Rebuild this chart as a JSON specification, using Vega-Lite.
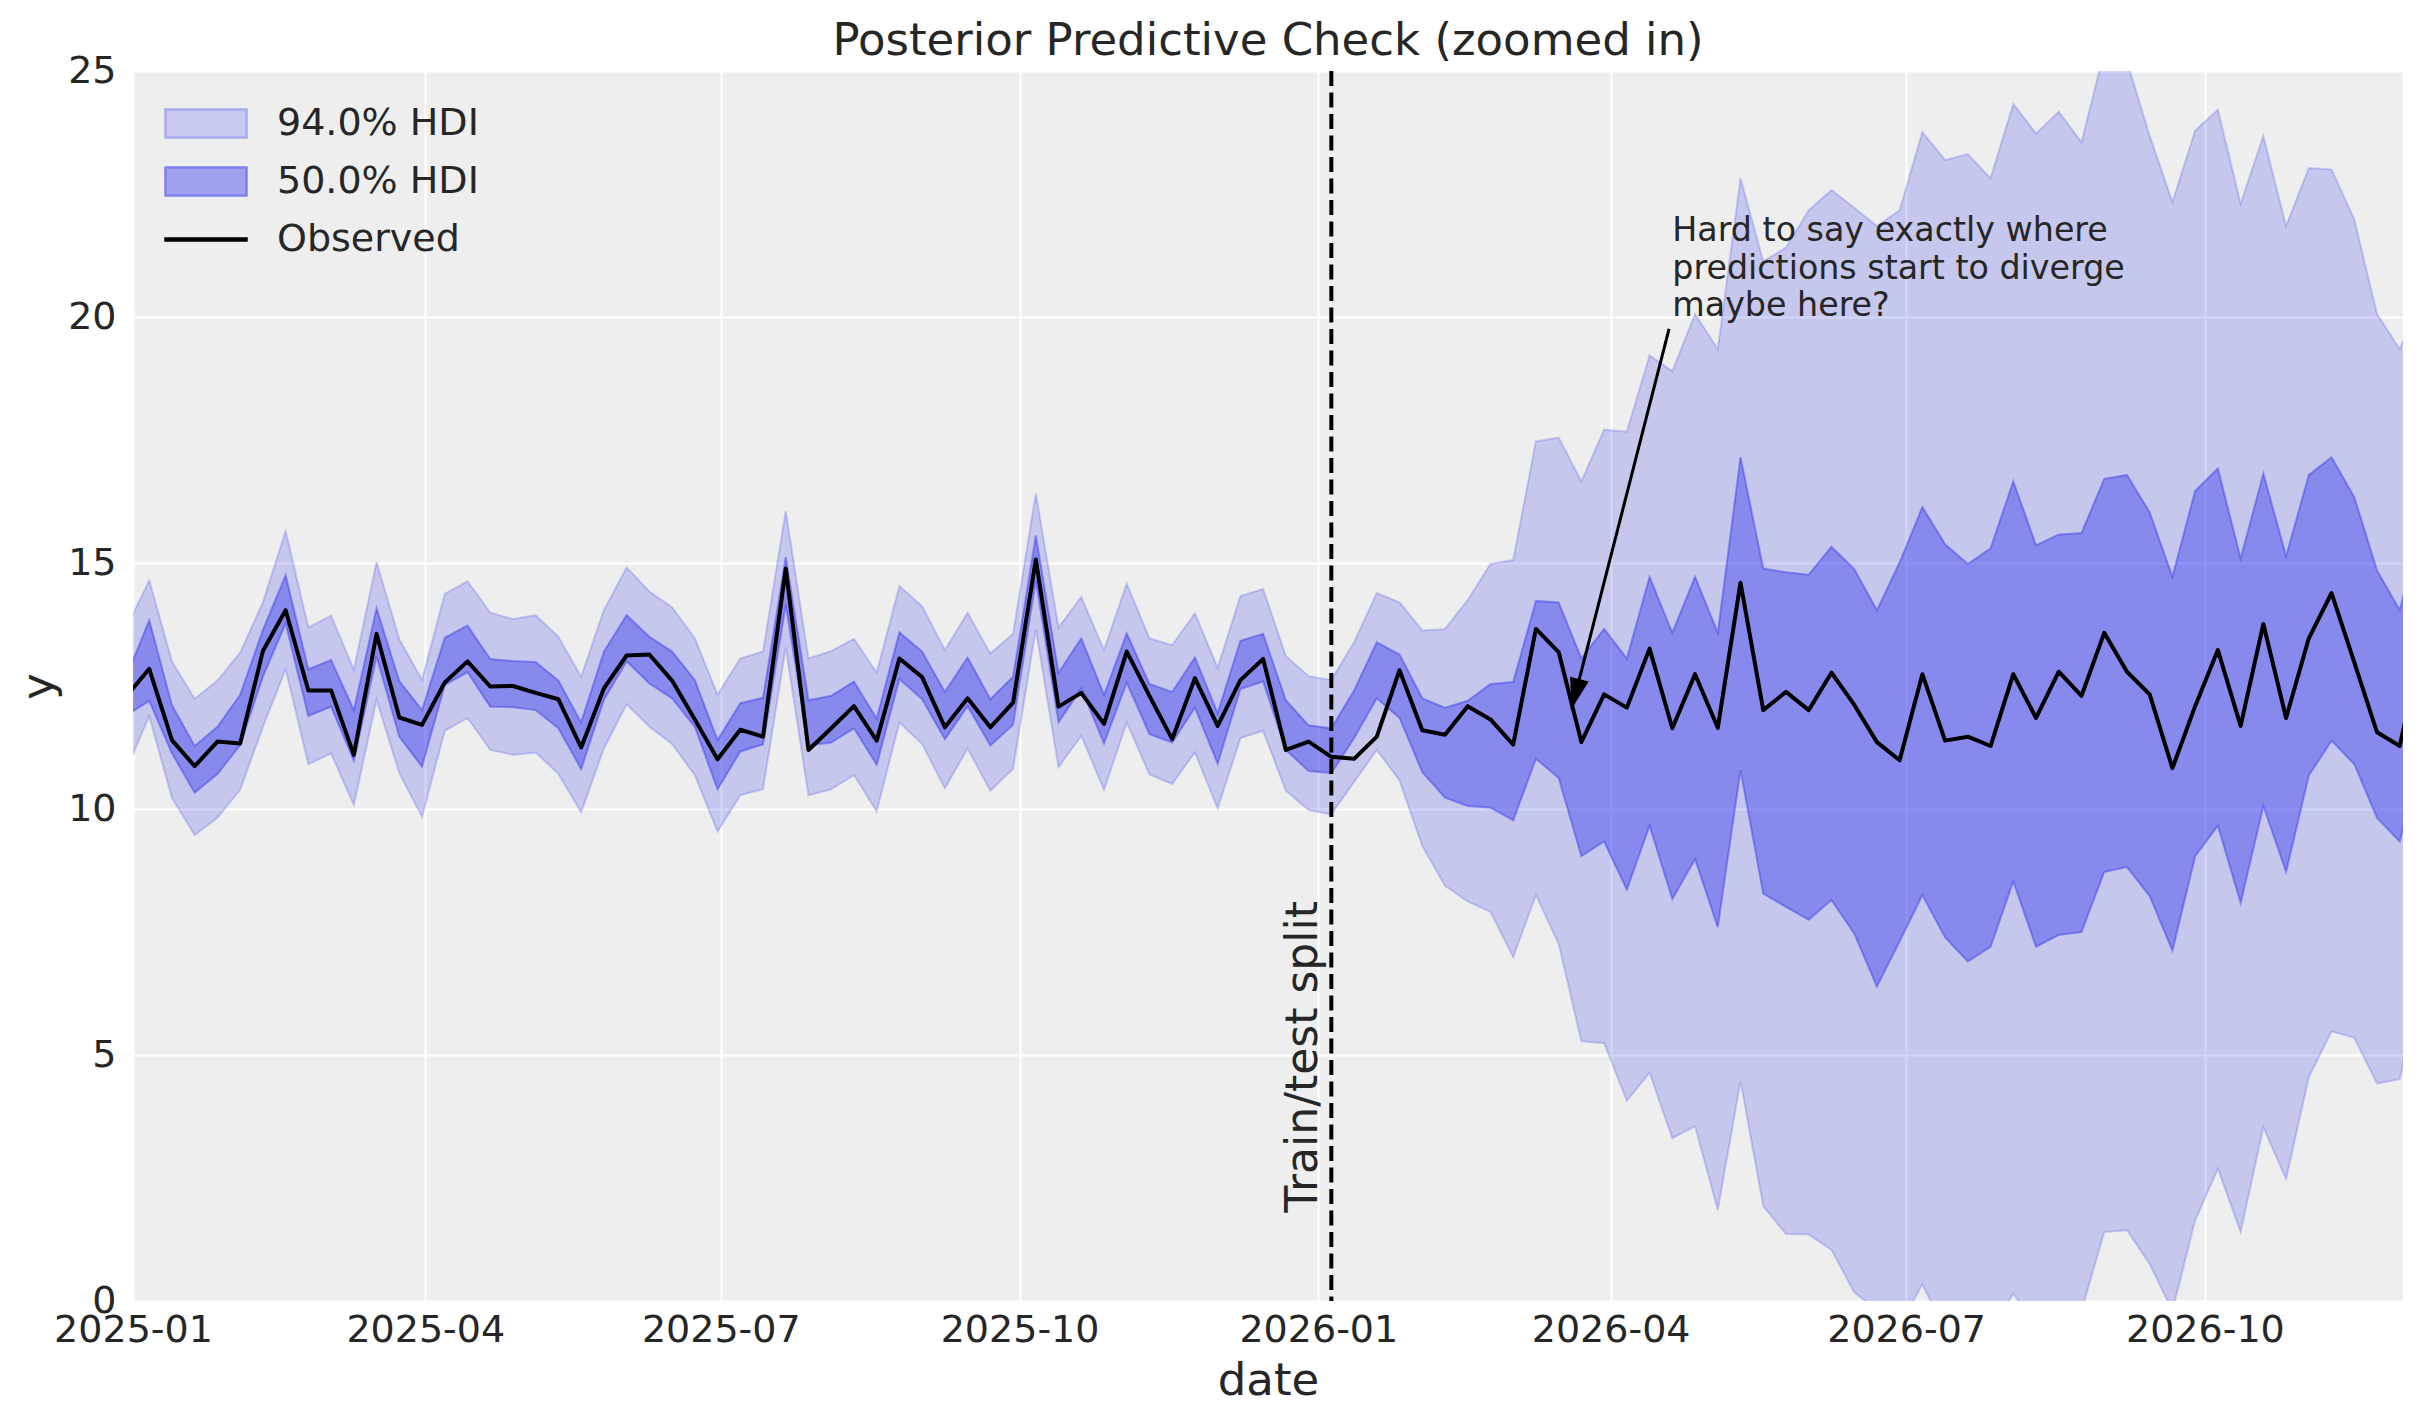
{
  "$schema": "https://vega.github.io/schema/vega-lite/v6.json",
  "width": 2270,
  "height": 1230,
  "autosize": {"type": "none"},
  "padding": {"left": 133, "top": 71, "right": 20, "bottom": 122},
  "background": "white",
  "config": {
    "view": {"fill": "#eeeeee", "stroke": null},
    "font": "DejaVu Sans",
    "legend": {
      "orient": "top-left",
      "offset": 31,
      "padding": 0,
      "labelFont": "DejaVu Sans",
      "labelFontSize": 38,
      "labelColor": "#262626",
      "labelLimit": 0,
      "labelOffset": 70,
      "symbolSize": 1600,
      "symbolStrokeWidth": 2.5,
      "symbolOpacity": 1,
      "rowPadding": 17
    }
  },
  "title": {
    "text": "Posterior Predictive Check (zoomed in)",
    "font": "DejaVu Sans",
    "fontSize": 45,
    "fontWeight": "normal",
    "color": "#262626",
    "anchor": "middle",
    "frame": "group",
    "baseline": "alphabetic",
    "offset": -48
  },
  "datasets": {
    "weekly": [
      {"date": "2024-12-30", "obs": 12.29, "lo94": 10.81, "hi94": 13.69, "lo50": 11.9, "hi50": 12.69},
      {"date": "2025-01-06", "obs": 12.85, "lo94": 11.89, "hi94": 14.65, "lo50": 12.2, "hi50": 13.84},
      {"date": "2025-01-13", "obs": 11.4, "lo94": 10.22, "hi94": 13.0, "lo50": 11.13, "hi50": 12.11},
      {"date": "2025-01-20", "obs": 10.87, "lo94": 9.47, "hi94": 12.24, "lo50": 10.33, "hi50": 11.28},
      {"date": "2025-01-27", "obs": 11.37, "lo94": 9.82, "hi94": 12.61, "lo50": 10.71, "hi50": 11.67},
      {"date": "2025-02-03", "obs": 11.33, "lo94": 10.39, "hi94": 13.18, "lo50": 11.3, "hi50": 12.32},
      {"date": "2025-02-10", "obs": 13.21, "lo94": 11.67, "hi94": 14.2, "lo50": 12.69, "hi50": 13.64},
      {"date": "2025-02-17", "obs": 14.04, "lo94": 12.84, "hi94": 15.65, "lo50": 13.77, "hi50": 14.75},
      {"date": "2025-02-24", "obs": 12.41, "lo94": 10.91, "hi94": 13.69, "lo50": 11.89, "hi50": 12.84},
      {"date": "2025-03-03", "obs": 12.41, "lo94": 11.13, "hi94": 13.93, "lo50": 12.08, "hi50": 13.03},
      {"date": "2025-03-10", "obs": 11.1, "lo94": 10.08, "hi94": 12.83, "lo50": 10.98, "hi50": 12.01},
      {"date": "2025-03-17", "obs": 13.56, "lo94": 12.22, "hi94": 15.02, "lo50": 13.1, "hi50": 14.08},
      {"date": "2025-03-24", "obs": 11.86, "lo94": 10.73, "hi94": 13.45, "lo50": 11.47, "hi50": 12.6},
      {"date": "2025-03-31", "obs": 11.71, "lo94": 9.84, "hi94": 12.62, "lo50": 10.86, "hi50": 12.01},
      {"date": "2025-04-07", "obs": 12.57, "lo94": 11.59, "hi94": 14.37, "lo50": 12.52, "hi50": 13.48},
      {"date": "2025-04-14", "obs": 13.0, "lo94": 11.85, "hi94": 14.63, "lo50": 12.78, "hi50": 13.73},
      {"date": "2025-04-21", "obs": 12.49, "lo94": 11.2, "hi94": 13.99, "lo50": 12.08, "hi50": 13.05},
      {"date": "2025-04-28", "obs": 12.5, "lo94": 11.1, "hi94": 13.86, "lo50": 12.07, "hi50": 13.01},
      {"date": "2025-05-05", "obs": 12.36, "lo94": 11.15, "hi94": 13.94, "lo50": 12.01, "hi50": 12.99},
      {"date": "2025-05-12", "obs": 12.23, "lo94": 10.71, "hi94": 13.5, "lo50": 11.64, "hi50": 12.61},
      {"date": "2025-05-19", "obs": 11.25, "lo94": 9.93, "hi94": 12.69, "lo50": 10.81, "hi50": 11.76},
      {"date": "2025-05-26", "obs": 12.45, "lo94": 11.23, "hi94": 14.04, "lo50": 12.22, "hi50": 13.2},
      {"date": "2025-06-02", "obs": 13.12, "lo94": 12.13, "hi94": 14.91, "lo50": 13.0, "hi50": 13.94},
      {"date": "2025-06-09", "obs": 13.14, "lo94": 11.67, "hi94": 14.42, "lo50": 12.55, "hi50": 13.5},
      {"date": "2025-06-16", "obs": 12.61, "lo94": 11.32, "hi94": 14.1, "lo50": 12.25, "hi50": 13.2},
      {"date": "2025-06-23", "obs": 11.82, "lo94": 10.69, "hi94": 13.47, "lo50": 11.67, "hi50": 12.62},
      {"date": "2025-06-30", "obs": 11.01, "lo94": 9.54, "hi94": 12.32, "lo50": 10.4, "hi50": 11.4},
      {"date": "2025-07-07", "obs": 11.61, "lo94": 10.28, "hi94": 13.06, "lo50": 11.17, "hi50": 12.15},
      {"date": "2025-07-14", "obs": 11.47, "lo94": 10.4, "hi94": 13.2, "lo50": 11.31, "hi50": 12.26},
      {"date": "2025-07-21", "obs": 14.89, "lo94": 13.28, "hi94": 16.06, "lo50": 14.15, "hi50": 15.12},
      {"date": "2025-07-28", "obs": 11.2, "lo94": 10.28, "hi94": 13.06, "lo50": 11.29, "hi50": 12.21},
      {"date": "2025-08-04", "obs": 11.64, "lo94": 10.4, "hi94": 13.21, "lo50": 11.35, "hi50": 12.3},
      {"date": "2025-08-11", "obs": 12.09, "lo94": 10.69, "hi94": 13.46, "lo50": 11.64, "hi50": 12.59},
      {"date": "2025-08-18", "obs": 11.39, "lo94": 9.95, "hi94": 12.77, "lo50": 10.9, "hi50": 11.84},
      {"date": "2025-08-25", "obs": 13.06, "lo94": 11.76, "hi94": 14.53, "lo50": 12.64, "hi50": 13.59},
      {"date": "2025-09-01", "obs": 12.68, "lo94": 11.32, "hi94": 14.12, "lo50": 12.23, "hi50": 13.2},
      {"date": "2025-09-08", "obs": 11.66, "lo94": 10.42, "hi94": 13.23, "lo50": 11.42, "hi50": 12.38},
      {"date": "2025-09-15", "obs": 12.25, "lo94": 11.23, "hi94": 13.99, "lo50": 12.09, "hi50": 13.08},
      {"date": "2025-09-22", "obs": 11.66, "lo94": 10.37, "hi94": 13.16, "lo50": 11.29, "hi50": 12.23},
      {"date": "2025-09-29", "obs": 12.16, "lo94": 10.82, "hi94": 13.56, "lo50": 11.71, "hi50": 12.69},
      {"date": "2025-10-06", "obs": 15.07, "lo94": 13.65, "hi94": 16.41, "lo50": 14.64, "hi50": 15.56},
      {"date": "2025-10-13", "obs": 12.08, "lo94": 10.85, "hi94": 13.69, "lo50": 11.76, "hi50": 12.77},
      {"date": "2025-10-20", "obs": 12.36, "lo94": 11.49, "hi94": 14.31, "lo50": 12.45, "hi50": 13.47},
      {"date": "2025-10-27", "obs": 11.73, "lo94": 10.39, "hi94": 13.23, "lo50": 11.33, "hi50": 12.32},
      {"date": "2025-11-03", "obs": 13.2, "lo94": 11.76, "hi94": 14.58, "lo50": 12.57, "hi50": 13.57},
      {"date": "2025-11-10", "obs": 12.3, "lo94": 10.7, "hi94": 13.47, "lo50": 11.52, "hi50": 12.54},
      {"date": "2025-11-17", "obs": 11.42, "lo94": 10.51, "hi94": 13.33, "lo50": 11.35, "hi50": 12.38},
      {"date": "2025-11-24", "obs": 12.66, "lo94": 11.15, "hi94": 13.98, "lo50": 12.06, "hi50": 13.08},
      {"date": "2025-12-01", "obs": 11.69, "lo94": 10.01, "hi94": 12.87, "lo50": 10.92, "hi50": 11.95},
      {"date": "2025-12-08", "obs": 12.62, "lo94": 11.44, "hi94": 14.33, "lo50": 12.44, "hi50": 13.42},
      {"date": "2025-12-15", "obs": 13.05, "lo94": 11.59, "hi94": 14.47, "lo50": 12.59, "hi50": 13.56},
      {"date": "2025-12-22", "obs": 11.2, "lo94": 10.37, "hi94": 13.11, "lo50": 11.2, "hi50": 12.21},
      {"date": "2025-12-29", "obs": 11.37, "lo94": 9.98, "hi94": 12.7, "lo50": 10.77, "hi50": 11.7},
      {"date": "2026-01-05", "obs": 11.06, "lo94": 9.89, "hi94": 12.62, "lo50": 10.73, "hi50": 11.64},
      {"date": "2026-01-12", "obs": 11.02, "lo94": 10.55, "hi94": 13.39, "lo50": 11.44, "hi50": 12.41},
      {"date": "2026-01-19", "obs": 11.47, "lo94": 11.2, "hi94": 14.39, "lo50": 12.25, "hi50": 13.39},
      {"date": "2026-01-26", "obs": 12.82, "lo94": 10.58, "hi94": 14.2, "lo50": 11.85, "hi50": 13.14},
      {"date": "2026-02-02", "obs": 11.6, "lo94": 9.25, "hi94": 13.63, "lo50": 10.75, "hi50": 12.25},
      {"date": "2026-02-09", "obs": 11.51, "lo94": 8.44, "hi94": 13.66, "lo50": 10.23, "hi50": 12.06},
      {"date": "2026-02-16", "obs": 12.09, "lo94": 8.12, "hi94": 14.25, "lo50": 10.06, "hi50": 12.2},
      {"date": "2026-02-23", "obs": 11.82, "lo94": 7.91, "hi94": 14.98, "lo50": 10.03, "hi50": 12.54},
      {"date": "2026-03-02", "obs": 11.31, "lo94": 6.99, "hi94": 15.06, "lo50": 9.77, "hi50": 12.58},
      {"date": "2026-03-09", "obs": 13.66, "lo94": 8.25, "hi94": 17.47, "lo50": 11.02, "hi50": 14.23},
      {"date": "2026-03-16", "obs": 13.19, "lo94": 7.26, "hi94": 17.55, "lo50": 10.63, "hi50": 14.2},
      {"date": "2026-03-23", "obs": 11.36, "lo94": 5.28, "hi94": 16.66, "lo50": 9.04, "hi50": 13.06},
      {"date": "2026-03-30", "obs": 12.33, "lo94": 5.24, "hi94": 17.71, "lo50": 9.34, "hi50": 13.66},
      {"date": "2026-04-06", "obs": 12.06, "lo94": 4.07, "hi94": 17.67, "lo50": 8.36, "hi50": 13.06},
      {"date": "2026-04-13", "obs": 13.26, "lo94": 4.64, "hi94": 19.22, "lo50": 9.66, "hi50": 14.72},
      {"date": "2026-04-20", "obs": 11.64, "lo94": 3.31, "hi94": 18.9, "lo50": 8.17, "hi50": 13.58},
      {"date": "2026-04-27", "obs": 12.74, "lo94": 3.55, "hi94": 20.06, "lo50": 8.98, "hi50": 14.72},
      {"date": "2026-05-04", "obs": 11.65, "lo94": 1.85, "hi94": 19.35, "lo50": 7.6, "hi50": 13.58},
      {"date": "2026-05-11", "obs": 14.6, "lo94": 4.47, "hi94": 22.82, "lo50": 10.79, "hi50": 17.15},
      {"date": "2026-05-18", "obs": 12.01, "lo94": 1.93, "hi94": 21.13, "lo50": 8.28, "hi50": 14.89},
      {"date": "2026-05-25", "obs": 12.38, "lo94": 1.36, "hi94": 21.41, "lo50": 8.01, "hi50": 14.81},
      {"date": "2026-06-01", "obs": 12.01, "lo94": 1.35, "hi94": 22.17, "lo50": 7.75, "hi50": 14.76},
      {"date": "2026-06-08", "obs": 12.77, "lo94": 1.04, "hi94": 22.58, "lo50": 8.15, "hi50": 15.33},
      {"date": "2026-06-15", "obs": 12.12, "lo94": 0.18, "hi94": 22.22, "lo50": 7.47, "hi50": 14.88},
      {"date": "2026-06-22", "obs": 11.36, "lo94": -0.2, "hi94": 21.85, "lo50": 6.39, "hi50": 14.04},
      {"date": "2026-06-29", "obs": 10.99, "lo94": -0.5, "hi94": 22.17, "lo50": 7.31, "hi50": 15.01},
      {"date": "2026-07-06", "obs": 12.74, "lo94": 0.34, "hi94": 23.76, "lo50": 8.25, "hi50": 16.14},
      {"date": "2026-07-13", "obs": 11.39, "lo94": -0.6, "hi94": 23.19, "lo50": 7.39, "hi50": 15.38},
      {"date": "2026-07-20", "obs": 11.47, "lo94": -0.4, "hi94": 23.31, "lo50": 6.9, "hi50": 14.98},
      {"date": "2026-07-27", "obs": 11.28, "lo94": -0.6, "hi94": 22.82, "lo50": 7.2, "hi50": 15.3},
      {"date": "2026-08-03", "obs": 12.74, "lo94": 0.15, "hi94": 24.33, "lo50": 8.53, "hi50": 16.66},
      {"date": "2026-08-10", "obs": 11.85, "lo94": -0.5, "hi94": 23.73, "lo50": 7.2, "hi50": 15.36},
      {"date": "2026-08-17", "obs": 12.79, "lo94": -0.6, "hi94": 24.17, "lo50": 7.44, "hi50": 15.58},
      {"date": "2026-08-24", "obs": 12.3, "lo94": -0.2, "hi94": 23.55, "lo50": 7.5, "hi50": 15.61},
      {"date": "2026-08-31", "obs": 13.58, "lo94": 1.4, "hi94": 25.4, "lo50": 8.72, "hi50": 16.71},
      {"date": "2026-09-07", "obs": 12.79, "lo94": 1.44, "hi94": 25.2, "lo50": 8.82, "hi50": 16.79},
      {"date": "2026-09-14", "obs": 12.33, "lo94": 0.75, "hi94": 23.68, "lo50": 8.23, "hi50": 16.03},
      {"date": "2026-09-21", "obs": 10.83, "lo94": -0.2, "hi94": 22.33, "lo50": 7.12, "hi50": 14.72},
      {"date": "2026-09-28", "obs": 12.09, "lo94": 1.64, "hi94": 23.79, "lo50": 9.04, "hi50": 16.47},
      {"date": "2026-10-05", "obs": 13.23, "lo94": 2.69, "hi94": 24.21, "lo50": 9.66, "hi50": 16.92},
      {"date": "2026-10-12", "obs": 11.69, "lo94": 1.4, "hi94": 22.3, "lo50": 8.09, "hi50": 15.09},
      {"date": "2026-10-19", "obs": 13.76, "lo94": 3.53, "hi94": 23.68, "lo50": 10.06, "hi50": 16.82},
      {"date": "2026-10-26", "obs": 11.85, "lo94": 2.48, "hi94": 21.85, "lo50": 8.72, "hi50": 15.14},
      {"date": "2026-11-02", "obs": 13.47, "lo94": 4.55, "hi94": 23.03, "lo50": 10.68, "hi50": 16.79},
      {"date": "2026-11-09", "obs": 14.39, "lo94": 5.48, "hi94": 23.0, "lo50": 11.39, "hi50": 17.15},
      {"date": "2026-11-16", "obs": 12.98, "lo94": 5.35, "hi94": 21.98, "lo50": 10.91, "hi50": 16.34},
      {"date": "2026-11-23", "obs": 11.56, "lo94": 4.42, "hi94": 20.06, "lo50": 9.82, "hi50": 14.85},
      {"date": "2026-11-30", "obs": 11.28, "lo94": 4.51, "hi94": 19.35, "lo50": 9.34, "hi50": 14.04},
      {"date": "2026-12-07", "obs": 13.4, "lo94": 6.5, "hi94": 20.4, "lo50": 11.2, "hi50": 15.9}
    ]
  },
  "layer": [
    {
      "data": {"name": "weekly"},
      "mark": {"type": "area", "clip": true, "fill": "#2a2eec", "fillOpacity": 0.2, "stroke": "#2a2eec", "strokeOpacity": 0.2, "strokeWidth": 2},
      "encoding": {
        "x": {
          "field": "date",
          "type": "temporal",
          "scale": {"type": "utc", "domain": [{"year": 2025, "month": 1, "date": 1, "utc": true}, {"year": 2026, "month": 12, "date": 1, "utc": true}]},
          "axis": {
            "title": "date",
            "format": "%Y-%m",
            "values": [
              {"year": 2025, "month": 1, "date": 1, "utc": true},
              {"year": 2025, "month": 4, "date": 1, "utc": true},
              {"year": 2025, "month": 7, "date": 1, "utc": true},
              {"year": 2025, "month": 10, "date": 1, "utc": true},
              {"year": 2026, "month": 1, "date": 1, "utc": true},
              {"year": 2026, "month": 4, "date": 1, "utc": true},
              {"year": 2026, "month": 7, "date": 1, "utc": true},
              {"year": 2026, "month": 10, "date": 1, "utc": true}
            ],
            "labelFont": "DejaVu Sans",
            "labelFontSize": 38,
            "labelColor": "#262626",
            "labelPadding": 10,
            "labelFlush": false,
            "labelOverlap": false,
            "ticks": false,
            "tickSize": 0,
            "domain": false,
            "grid": true,
            "gridColor": "#ffffff",
            "gridWidth": 2,
            "titleFont": "DejaVu Sans",
            "titleFontSize": 45,
            "titleFontWeight": "normal",
            "titleColor": "#262626",
            "titlePadding": 9
          }
        },
        "y": {
          "field": "lo94",
          "type": "quantitative",
          "scale": {"domain": [0, 25], "nice": false, "zero": false},
          "axis": {
            "title": "y",
            "values": [0, 5, 10, 15, 20, 25],
            "labelFont": "DejaVu Sans",
            "labelFontSize": 38,
            "labelColor": "#262626",
            "labelPadding": 17,
            "ticks": false,
            "tickSize": 0,
            "domain": false,
            "grid": true,
            "gridColor": "#ffffff",
            "gridWidth": 2,
            "titleFont": "DejaVu Sans",
            "titleFontSize": 45,
            "titleFontWeight": "normal",
            "titleColor": "#262626",
            "titlePadding": 6
          }
        },
        "y2": {"field": "hi94"}
      }
    },
    {
      "data": {"name": "weekly"},
      "mark": {"type": "area", "clip": true, "fill": "#2a2eec", "fillOpacity": 0.4, "stroke": "#2a2eec", "strokeOpacity": 0.4, "strokeWidth": 2},
      "encoding": {
        "x": {"field": "date", "type": "temporal"},
        "y": {"field": "lo50", "type": "quantitative"},
        "y2": {"field": "hi50"}
      }
    },
    {
      "data": {"name": "weekly"},
      "mark": {"type": "line", "clip": true, "color": "#000000", "strokeWidth": 4, "strokeJoin": "round"},
      "encoding": {
        "x": {"field": "date", "type": "temporal"},
        "y": {"field": "obs", "type": "quantitative"}
      }
    },
    {
      "data": {"values": [{"series": "94.0% HDI"}, {"series": "50.0% HDI"}, {"series": "Observed"}]},
      "mark": {"type": "point", "filled": true, "opacity": 0},
      "encoding": {
        "x": {"datum": {"year": 2025, "month": 6, "date": 1, "utc": true}, "type": "temporal"},
        "y": {"datum": 5, "type": "quantitative"},
        "fill": {
          "field": "series",
          "type": "nominal",
          "scale": {"domain": ["94.0% HDI", "50.0% HDI", "Observed"], "range": ["#c7c8ee", "#a0a1ed", "#000000"]},
          "legend": {"title": null}
        },
        "stroke": {
          "field": "series",
          "type": "nominal",
          "scale": {"domain": ["94.0% HDI", "50.0% HDI", "Observed"], "range": ["#a9abef", "#7d80ee", "#000000"]},
          "legend": {"title": null}
        },
        "shape": {
          "field": "series",
          "type": "nominal",
          "scale": {"domain": ["94.0% HDI", "50.0% HDI", "Observed"], "range": ["M-1,-0.7H3.05V0.7H-1Z", "M-1,-0.7H3.05V0.7H-1Z", "M-1,-0.05H3.05V0.05H-1Z"]},
          "legend": {"title": null}
        }
      }
    },
    {
      "data": {"values": [{"note": "Train/test split"}]},
      "mark": {"type": "rule", "color": "#000000", "strokeWidth": 4, "strokeDash": [15, 6.5]},
      "encoding": {
        "x": {"datum": {"year": 2026, "month": 1, "date": 5, "utc": true}, "type": "temporal"}
      }
    },
    {
      "data": {"values": [{"note": "Train/test split"}]},
      "mark": {"type": "text", "angle": 270, "align": "left", "baseline": "bottom", "dy": -5, "font": "DejaVu Sans", "fontSize": 44, "color": "#262626"},
      "encoding": {
        "x": {"datum": {"year": 2026, "month": 1, "date": 5, "utc": true}, "type": "temporal"},
        "y": {"datum": 1.8, "type": "quantitative"},
        "text": {"field": "note"}
      }
    },
    {
      "data": {"values": [{"note": "Hard to say exactly where\npredictions start to diverge\nmaybe here?"}]},
      "mark": {"type": "rule", "color": "#000000", "strokeWidth": 3},
      "encoding": {
        "x": {"datum": {"year": 2026, "month": 4, "date": 19, "utc": true}, "type": "temporal"},
        "y": {"datum": 19.76, "type": "quantitative"},
        "x2": {"datum": {"year": 2026, "month": 3, "date": 20, "utc": true}},
        "y2": {"datum": 12.03}
      }
    },
    {
      "data": {"values": [{"note": "Hard to say exactly where\npredictions start to diverge\nmaybe here?"}]},
      "mark": {"type": "point", "shape": "M0,0L-0.31,1L0.31,1Z", "size": 3844, "angle": 194.4, "filled": true, "color": "#000000", "opacity": 1, "strokeWidth": 0},
      "encoding": {
        "x": {"datum": {"year": 2026, "month": 3, "date": 20, "utc": true}, "type": "temporal"},
        "y": {"datum": 12.03, "type": "quantitative"}
      }
    },
    {
      "data": {"values": [{"note": "Hard to say exactly where\npredictions start to diverge\nmaybe here?"}]},
      "mark": {"type": "text", "align": "left", "baseline": "alphabetic", "lineBreak": "\n", "lineHeight": 37.5, "font": "DejaVu Sans", "fontSize": 33.3, "color": "#262626"},
      "encoding": {
        "x": {"datum": {"year": 2026, "month": 4, "date": 20, "utc": true}, "type": "temporal"},
        "y": {"datum": 21.54, "type": "quantitative"},
        "text": {"field": "note"}
      }
    }
  ]
}
